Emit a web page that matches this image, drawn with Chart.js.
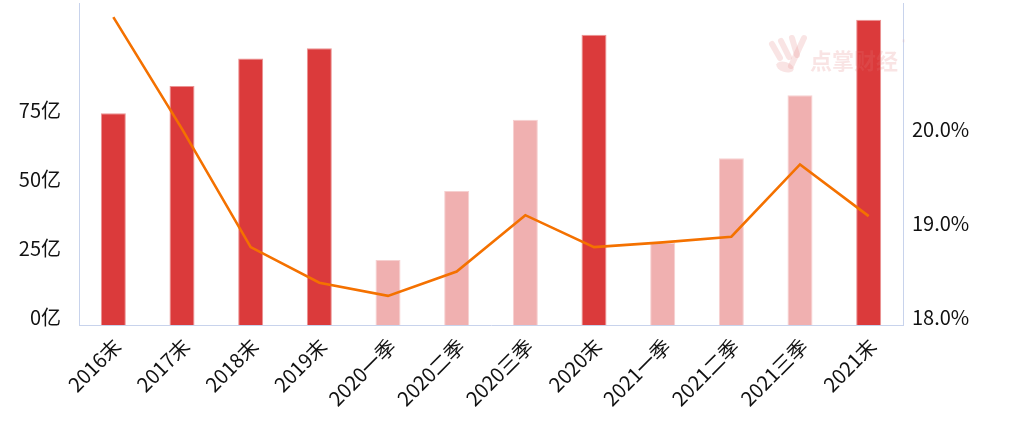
<!DOCTYPE html>
<html>
<head>
<meta charset="utf-8">
<script src="https://cdn.jsdelivr.net/npm/chart.js@4/dist/chart.umd.min.js"></script>
<style>
  html, body { margin: 0; padding: 0; background: #fff; }
  .chart-wrap { width: 1014px; height: 427px; position: relative; }
</style>
</head>
<body>
<div class="chart-wrap"><canvas id="profitChart"></canvas></div>
<script>
const categories = ['2016末', '2017末', '2018末', '2019末', '2020一季', '2020二季', '2020三季', '2020末', '2021一季', '2021二季', '2021三季', '2021末'];
const barValues = [76.7, 86.6, 96.6, 100.3, 23.6, 48.6, 74.4, 105.2, 29.7, 60.4, 83.3, 110.6];
const ratioValues = [21.28, 20.09, 18.83, 18.45, 18.31, 18.57, 19.17, 18.83, 18.88, 18.94, 19.71, 19.16];
const leftTicks = [0, 25, 50, 75];
const rightTicks = [18, 19, 20];

const FONT = '"Noto Sans CJK SC", "Noto Sans", sans-serif';
const AXIS_COLOR = '#c8d3ec';

const barColors = categories.map((c) => (c.endsWith('末') ? '#db3a3b' : '#f0b0b0'));
const barBorders = categories.map((c) => (c.endsWith('末') ? 'rgba(219,58,59,0.55)' : 'rgba(240,176,176,0.6)'));

// faint brand watermark in the upper right
const watermark = {
  id: 'watermark',
  afterDraw(chart) {
    const { ctx } = chart;
    ctx.save();
    ctx.fillStyle = 'rgba(226,120,120,0.2)';
    ctx.strokeStyle = 'rgba(226,120,120,0.2)';
    ctx.lineCap = 'round';
    ctx.lineWidth = 6;
    [[772, 44, 780, 58], [781, 41, 789, 57], [792, 38, 797, 55], [804, 38, 791, 66]].forEach(([a, b, c, d]) => {
      ctx.beginPath(); ctx.moveTo(a, b); ctx.lineTo(c, d); ctx.stroke();
    });
    ctx.beginPath(); ctx.ellipse(785, 67, 9, 5, 0.3, 0, Math.PI * 2); ctx.fill();
    ctx.font = 'bold 22px ' + FONT;
    ctx.textBaseline = 'alphabetic';
    ctx.fillText('点掌财经', 810, 69);
    ctx.font = '7px ' + FONT;
    ctx.fillText('®', 902, 45);
    ctx.restore();
  }
};

const noPad = (s) => { s.paddingTop = 0; s.paddingBottom = 0; s.paddingLeft = 0; s.paddingRight = 0; };

new Chart(document.getElementById('profitChart'), {
  data: {
    labels: categories,
    datasets: [
      {
        type: 'line', label: '比例', data: ratioValues, yAxisID: 'yRight', order: 0,
        borderColor: '#f47100', borderWidth: 2.6, pointRadius: 0, tension: 0, fill: false
      },
      {
        type: 'bar', label: '金额', data: barValues, yAxisID: 'yLeft', order: 1,
        backgroundColor: barColors, borderColor: barBorders, borderWidth: 1,
        barPercentage: 0.364, categoryPercentage: 1
      }
    ]
  },
  options: {
    responsive: true,
    maintainAspectRatio: false,
    animation: false,
    devicePixelRatio: 1,
    layout: { padding: { top: 3, left: 0, right: 0, bottom: 0 } },
    plugins: { legend: { display: false }, tooltip: { enabled: false } },
    scales: {
      x: {
        grid: { display: false, drawTicks: false },
        border: { display: true, color: AXIS_COLOR },
        ticks: { color: '#111', font: { family: FONT, size: 20 }, minRotation: 45, maxRotation: 45, padding: 9, labelOffset: 4, autoSkip: false },
        afterFit: (s) => { s.height = 102; noPad(s); }
      },
      yLeft: {
        position: 'left', min: 0, max: 116.7,
        grid: { display: false, drawTicks: false },
        border: { display: true, color: AXIS_COLOR },
        afterBuildTicks: (s) => { s.ticks = leftTicks.map((v) => ({ value: v })); },
        ticks: { color: '#111', font: { family: FONT, size: 20 }, padding: 18, labelOffset: -8, callback: (v) => v + '亿' },
        afterFit: (s) => { s.width = 79; noPad(s); }
      },
      yRight: {
        position: 'right', min: 18, max: 21.43,
        grid: { display: false, drawTicks: false },
        border: { display: true, color: AXIS_COLOR },
        afterBuildTicks: (s) => { s.ticks = rightTicks.map((v) => ({ value: v })); },
        ticks: { color: '#111', font: { family: FONT, size: 20 }, padding: 9, labelOffset: -8, callback: (v) => v.toFixed(1) + '%' },
        afterFit: (s) => { s.width = 111; noPad(s); }
      }
    }
  },
  plugins: [watermark]
});
</script>
</body>
</html>
